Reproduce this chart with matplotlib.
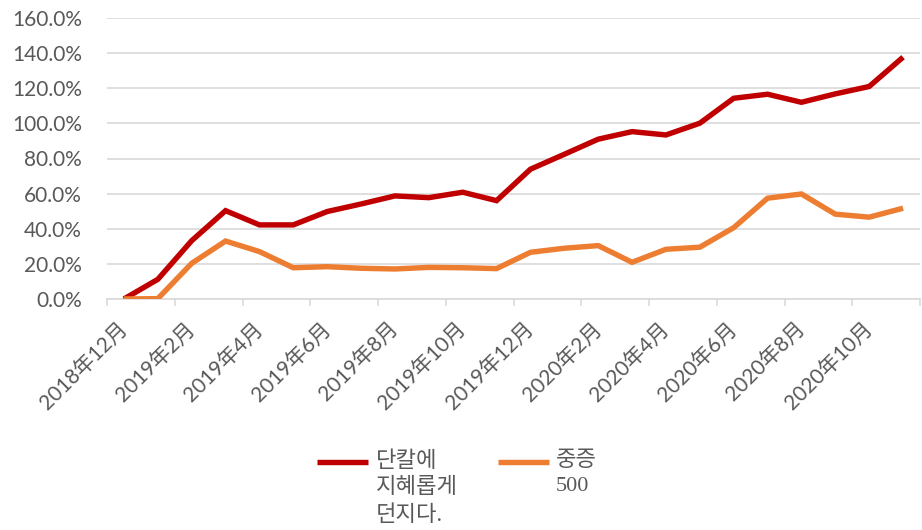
import matplotlib
matplotlib.use("Agg")
import matplotlib.pyplot as plt
from matplotlib.lines import Line2D
from matplotlib.ticker import FixedLocator, PercentFormatter

# ---- data ----
months = ["2018年12月", "2019年1月", "2019年2月", "2019年3月", "2019年4月", "2019年5月",
          "2019年6月", "2019年7月", "2019年8月", "2019年9月", "2019年10月", "2019年11月",
          "2019年12月", "2020年1月", "2020年2月", "2020年3月", "2020年4月", "2020年5月",
          "2020年6月", "2020年7月", "2020年8月", "2020年9月", "2020年10月", "2020年11月"]
series_a_name = "단칼에\n지혜롭게\n던지다."
series_b_name = "중증\n500"
series_a = [0.0, 11.2, 33.2, 50.3, 42.2, 42.2, 49.8, 54.1, 58.7, 57.7, 60.8, 56.0,
            73.9, 82.4, 91.0, 95.3, 93.4, 100.1, 114.3, 116.6, 112.0, 116.8, 121.0, 137.7]
series_b = [0.0, 0.2, 20.3, 33.0, 27.0, 17.8, 18.4, 17.5, 17.1, 18.0, 17.8, 17.3,
            26.6, 28.9, 30.4, 20.9, 28.3, 29.5, 40.6, 57.4, 59.8, 48.3, 46.6, 51.7]
y_ticks = [0, 20, 40, 60, 80, 100, 120, 140, 160]

# ---- style ----
RED = "#C00000"
ORANGE = "#ED7D31"
GRID = "#D9D9D9"
TXT = "#595959"
tick_font = ["Lato", "Noto Sans CJK SC"]
legend_font = ["Liberation Serif", "Noto Sans CJK KR"]

W, H = 922, 530
fig = plt.figure(figsize=(W / 100, H / 100), dpi=100)
ax = fig.add_axes([107 / W, 1 - 299 / H, (920 - 107) / W, (299 - 18) / H])

x = list(range(len(months)))
ax.plot(x, series_a, color=RED, lw=3.9, solid_joinstyle="miter", solid_capstyle="butt", zorder=3)
ax.plot(x, series_b, color=ORANGE, lw=3.9, solid_joinstyle="miter", solid_capstyle="butt", zorder=3)

ax.set_xlim(-0.5, len(months) - 0.5)
ax.set_ylim(0, 160)
ax.yaxis.set_major_locator(FixedLocator(y_ticks))
ax.yaxis.set_major_formatter(PercentFormatter(decimals=1))
ax.grid(axis="y", color=GRID, lw=1.2)
ax.set_axisbelow(True)

for s in ["top", "right", "left"]:
    ax.spines[s].set_visible(False)
ax.spines["bottom"].set_color(GRID)
ax.spines["bottom"].set_linewidth(1.2)

ax.tick_params(axis="y", length=0, pad=18, labelcolor=TXT, labelsize=15)
for lab in ax.get_yticklabels():
    lab.set_fontfamily(tick_font)

# x: boundary tick marks every 2 categories, labels at category centres
ax.set_xticks([i - 0.5 for i in range(0, len(months) + 1, 2)])
ax.set_xticklabels([])
ax.tick_params(axis="x", which="major", length=5, color=GRID, width=1.2)
label_idx = list(range(0, len(months), 2))
ax.set_xticks(label_idx, minor=True)
ax.set_xticklabels([months[i] for i in label_idx], minor=True, rotation=45,
                   ha="right", va="center", rotation_mode="anchor",
                   fontfamily=tick_font, fontsize=15, color=TXT)
ax.tick_params(axis="x", which="minor", length=0, pad=19)

# ---- legend (manual, handle aligned with first text line) ----
def fx(px):
    return px / W

def fy(py):
    return 1 - py / H

for (x0, x1, tx, col, name) in [(317, 368, 376, RED, series_a_name),
                                (498, 549, 556, ORANGE, series_b_name)]:
    fig.add_artist(Line2D([fx(x0), fx(x1)], [fy(462), fy(462)], color=col, lw=3.9,
                          solid_capstyle="butt", transform=fig.transFigure))
    fig.text(fx(tx), fy(451), name, ha="left", va="top", color=TXT,
             fontfamily=legend_font, fontsize=16, linespacing=1.45)

fig.savefig("out.png", dpi=100)
